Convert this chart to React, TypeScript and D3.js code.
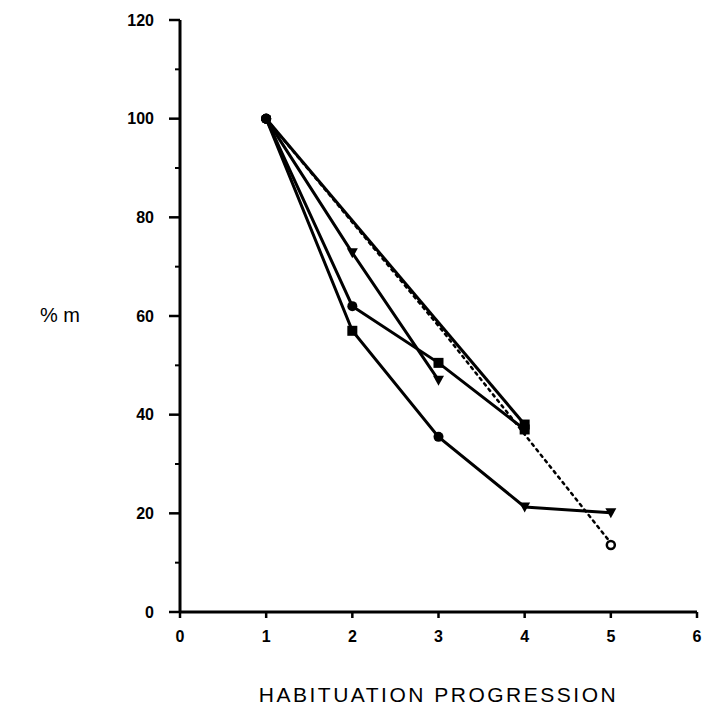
import React from "react";
import * as d3 from "d3";

// Habituation progression (x) vs % m (y)
const sessions = [1, 2, 3, 4, 5];
const seriesA = [100, null, null, 38, null]; // straight top solid line
const seriesB = [100, null, 58, 36, 14]; // dotted line, open circle at end
const seriesC = [100, 62, 50.5, 37, null];
const seriesD = [100, 72.8, 47, null, null];
const seriesE = [100, 57, 35.5, 21.3, 20.1];

const markersA = ["circle", "none", "none", "square", "none"];
const markersB = ["circle", "none", "none", "none", "open"];
const markersC = ["circle", "circle", "square", "square", "none"];
const markersD = ["circle", "tri", "tri", "none", "none"];
const markersE = ["circle", "square", "circle", "tri", "tri"];

const yTicks = [0, 20, 40, 60, 80, 100, 120];
const yMinorTicks = [10, 30, 50, 70, 90, 110];
const xTicks = [0, 1, 2, 3, 4, 5, 6];

const W = 704;
const H = 723;

export default function App() {
  const x = d3.scaleLinear().domain([0, 6]).range([180, 697]);
  const y = d3.scaleLinear().domain([0, 120]).range([612, 20]);

  const series = [
    { vals: seriesA, marks: markersA, dotted: false },
    { vals: seriesB, marks: markersB, dotted: true },
    { vals: seriesC, marks: markersC, dotted: false },
    { vals: seriesD, marks: markersD, dotted: false },
    { vals: seriesE, marks: markersE, dotted: false },
  ];

  const line = d3
    .line<[number, number]>()
    .x((d) => x(d[0]))
    .y((d) => y(d[1]));

  const font = "'Liberation Sans', Arial, sans-serif";

  const marker = (kind: string, cx: number, cy: number, key: string) => {
    if (kind === "circle")
      return <circle key={key} cx={cx} cy={cy} r={5} fill="#000" />;
    if (kind === "square")
      return <rect key={key} x={cx - 5} y={cy - 5} width={10} height={10} fill="#000" />;
    if (kind === "tri")
      return (
        <path
          key={key}
          d={`M${cx - 5.5},${cy - 4.5} L${cx + 5.5},${cy - 4.5} L${cx},${cy + 5.5} Z`}
          fill="#000"
        />
      );
    if (kind === "open")
      return (
        <circle key={key} cx={cx} cy={cy + 2} r={4} fill="#fff" stroke="#000" strokeWidth={2.5} />
      );
    return null;
  };

  return (
    <svg
      width={W}
      height={H}
      style={{ position: "absolute", left: 0, top: 0, background: "#fff" }}
    >
      <rect x={0} y={0} width={W} height={H} fill="#fff" />
      {/* y axis */}
      <line x1={x(0)} x2={x(0)} y1={y(120)} y2={y(0)} stroke="#000" strokeWidth={3} />
      {yTicks.map((t) => (
        <g key={"yt" + t}>
          <line x1={x(0) - 11} x2={x(0)} y1={y(t)} y2={y(t)} stroke="#000" strokeWidth={2.5} />
          <text
            x={x(0) - 26}
            y={y(t)}
            dy="0.36em"
            textAnchor="end"
            fontFamily={font}
            fontWeight="bold"
            fontSize={16}
          >
            {t}
          </text>
        </g>
      ))}
      {yMinorTicks.map((t) => (
        <line key={"ym" + t} x1={x(0) - 5} x2={x(0)} y1={y(t)} y2={y(t)} stroke="#000" strokeWidth={2} />
      ))}
      {/* x axis */}
      <line x1={x(0)} x2={x(6)} y1={y(0)} y2={y(0)} stroke="#000" strokeWidth={3} />
      {xTicks.map((t) => (
        <g key={"xt" + t}>
          <line x1={x(t)} x2={x(t)} y1={y(0)} y2={y(0) + 6} stroke="#000" strokeWidth={2.5} />
          <text
            x={x(t)}
            y={y(0) + 30}
            textAnchor="middle"
            fontFamily={font}
            fontWeight="bold"
            fontSize={16}
          >
            {t}
          </text>
        </g>
      ))}
      {/* lines */}
      {series.map((s, i) => {
        const pts: [number, number][] = [];
        s.vals.forEach((v, j) => {
          if (v !== null) pts.push([sessions[j], v as number]);
        });
        return (
          <path
            key={"l" + i}
            d={line(pts) || ""}
            fill="none"
            stroke="#000"
            strokeWidth={s.dotted ? 2.5 : 3}
            strokeDasharray={s.dotted ? "2.5,4.5" : undefined}
            strokeLinecap={s.dotted ? "round" : "butt"}
          />
        );
      })}
      {series.map((s, i) =>
        s.vals.map((v, j) =>
          v === null ? null : marker(s.marks[j], x(sessions[j]), y(v as number), `m${i}-${j}`)
        )
      )}
      {/* labels */}
      <text x={40} y={y(60) + 6} fontFamily={font} fontSize={20}>
        % m
      </text>
      <text
        x={(x(0) + x(6)) / 2}
        y={y(0) + 90}
        textAnchor="middle"
        fontFamily={font}
        fontSize={21}
        letterSpacing={2.5}
      >
        HABITUATION PROGRESSION
      </text>
    </svg>
  );
}
